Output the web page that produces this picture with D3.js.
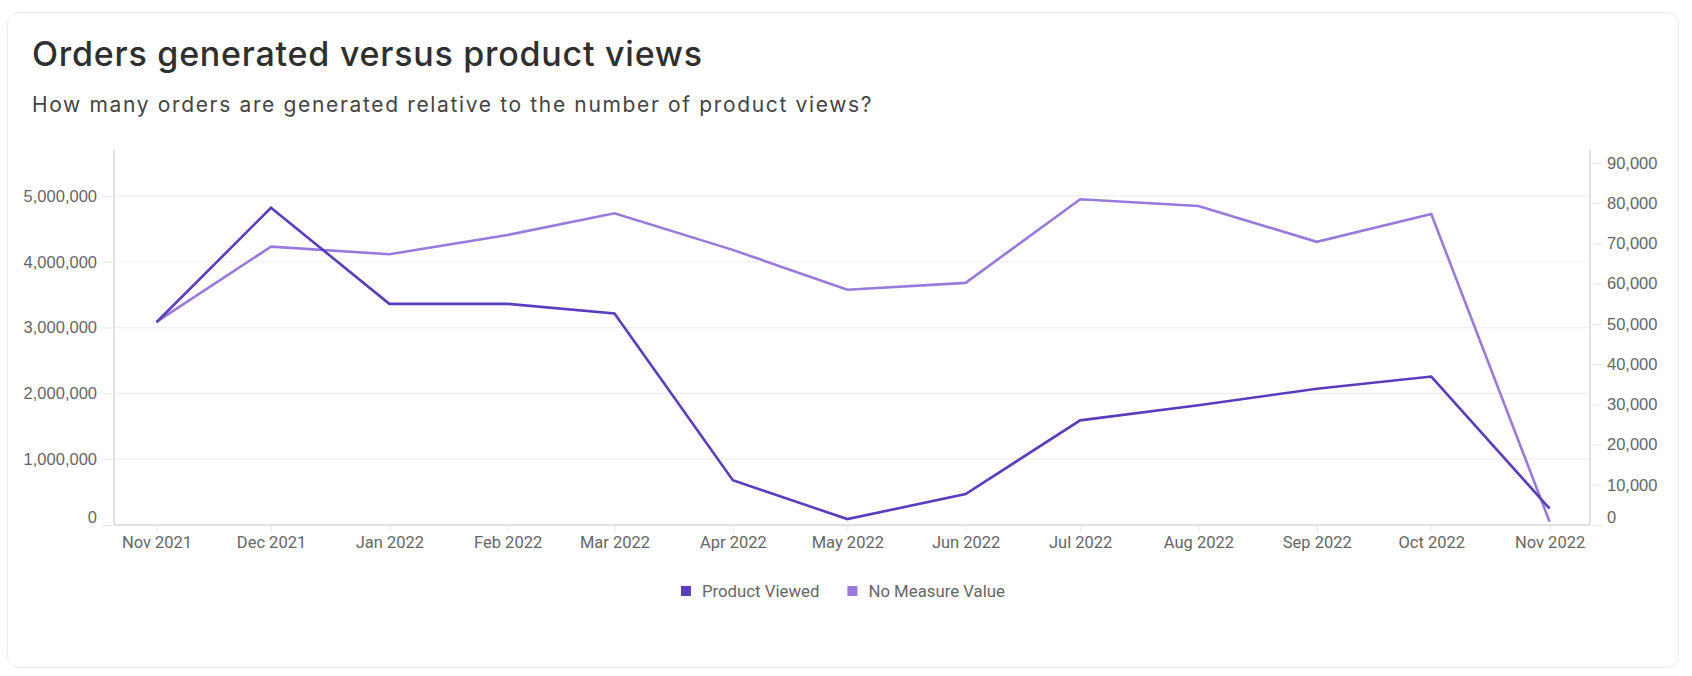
<!DOCTYPE html>
<html>
<head>
<meta charset="utf-8">
<script src="https://cdn.jsdelivr.net/npm/d3@7.9.0/dist/d3.min.js"></script>
<style>
  html, body { margin: 0; padding: 0; background: #fff; }
  svg { display: block; }
</style>
</head>
<body>
<script>
// Chart data
const months = ["2021-11", "2021-12", "2022-01", "2022-02", "2022-03", "2022-04", "2022-05",
                "2022-06", "2022-07", "2022-08", "2022-09", "2022-10", "2022-11"];
const productViewed = [3080000, 4820000, 3360000, 3360000, 3215000, 680000, 90000,
                       470000, 1590000, 1820000, 2070000, 2255000, 250000];
const noMeasureValue = [50500, 69200, 67300, 72100, 77500, 68400, 58500,
                        60200, 81000, 79300, 70400, 77300, 800];
const leftTicks = [0, 1000000, 2000000, 3000000, 4000000, 5000000];
const rightTicks = [0, 10000, 20000, 30000, 40000, 50000, 60000, 70000, 80000, 90000];
const seriesNames = ["Product Viewed", "No Measure Value"];
const seriesColors = ["#5b3cbf", "#9a79dc"];

const W = 1692, H = 676;
const parseMonth = d3.timeParse("%Y-%m");
const dates = months.map(parseMonth);

const svg = d3.select("body").append("svg")
    .attr("width", W)
    .attr("height", H);

// card background
svg.append("rect")
    .attr("x", 7.5).attr("y", 12.5)
    .attr("width", 1671).attr("height", 655)
    .attr("rx", 12)
    .attr("fill", "#fff")
    .attr("stroke", "#ebebed");

// headings
svg.append("text")
    .attr("x", 32).attr("y", 66)
    .attr("font-family", "Inter, sans-serif")
    .attr("font-size", 34)
    .attr("font-weight", 500)
    .attr("letter-spacing", "0.75px")
    .attr("fill", "#2f2f2f")
    .text("Orders generated versus product views");

svg.append("text")
    .attr("x", 32).attr("y", 112)
    .attr("font-family", "Inter, sans-serif")
    .attr("font-size", 21)
    .attr("letter-spacing", "1.65px")
    .attr("fill", "#444")
    .text("How many orders are generated relative to the number of product views?");

// plot frame
const plotLeft = 114, plotRight = 1590, plotTop = 150, plotBottom = 525;

const x = d3.scaleTime()
    .domain([dates[0], dates[dates.length - 1]])
    .range([156.5, 1549.6]);
const yLeft = d3.scaleLinear().domain([0, 5500000]).range([plotBottom, 163]);
const yRight = d3.scaleLinear().domain([0, 90000]).range([plotBottom, 163]);

// gridlines
svg.append("g")
    .selectAll("line")
    .data(leftTicks.filter(d => d > 0))
    .join("line")
    .attr("x1", plotLeft).attr("x2", plotRight)
    .attr("y1", d => yLeft(d)).attr("y2", d => yLeft(d))
    .attr("stroke", "#f0f0f0")
    .attr("stroke-width", 1.2);

// left axis
const fmt = d3.format(",");
const gLeft = svg.append("g")
    .attr("transform", `translate(112,0)`)
    .call(d3.axisLeft(yLeft).tickValues(leftTicks).tickSize(10).tickPadding(5).tickFormat(fmt));
gLeft.select(".domain").remove();

// right axis
const gRight = svg.append("g")
    .attr("transform", `translate(1593,0)`)
    .call(d3.axisRight(yRight).tickValues(rightTicks).tickSize(9).tickPadding(5).tickFormat(fmt));
gRight.select(".domain").remove();

[gLeft, gRight].forEach(g => {
  g.selectAll(".tick line").attr("stroke", "#e6e6e6");
  g.selectAll(".tick text")
      .attr("font-family", "'Liberation Sans', Arial, sans-serif")
      .attr("font-size", 16.5)
      .attr("fill", "#666");
  g.selectAll(".tick").filter(d => d === 0).select("text").attr("dy", "-0.18em");
});

// bottom axis
const gX = svg.append("g")
    .attr("transform", `translate(0,${plotBottom})`)
    .call(d3.axisBottom(x).tickValues(dates).tickSize(7).tickPadding(4).tickFormat(d3.timeFormat("%b %Y")));
gX.select(".domain").remove();
gX.selectAll(".tick line").attr("stroke", "#e6e6e6");
gX.selectAll(".tick text")
    .attr("font-family", "Roboto, sans-serif")
    .attr("font-size", 16.5)
    .attr("fill", "#666");

// axis lines
svg.append("line")
    .attr("x1", plotLeft).attr("x2", plotLeft)
    .attr("y1", plotTop).attr("y2", plotBottom)
    .attr("stroke", "#d8d8d8").attr("stroke-width", 1.5);
svg.append("line")
    .attr("x1", plotRight).attr("x2", plotRight)
    .attr("y1", plotTop).attr("y2", plotBottom)
    .attr("stroke", "#d8d8d8").attr("stroke-width", 1.5);
svg.append("line")
    .attr("x1", plotLeft).attr("x2", plotRight)
    .attr("y1", plotBottom).attr("y2", plotBottom)
    .attr("stroke", "#d8d8d8").attr("stroke-width", 1.5);

// lines
const lineLeft = d3.line().x((d, i) => x(dates[i])).y(d => yLeft(d));
const lineRight = d3.line().x((d, i) => x(dates[i])).y(d => yRight(d));

svg.append("path")
    .datum(noMeasureValue)
    .attr("d", lineRight)
    .attr("fill", "none")
    .attr("stroke", seriesColors[1])
    .attr("stroke-width", 2.6);

svg.append("path")
    .datum(productViewed)
    .attr("d", lineLeft)
    .attr("fill", "none")
    .attr("stroke", seriesColors[0])
    .attr("stroke-width", 2.6);

// legend
const legend = svg.append("g").attr("transform", "translate(0,591)");
const items = legend.selectAll("g")
    .data(seriesNames)
    .join("g");
items.append("rect")
    .attr("width", 10).attr("height", 10)
    .attr("y", -5)
    .attr("fill", (d, i) => seriesColors[i]);
items.append("text")
    .attr("x", 21)
    .attr("dy", "0.35em")
    .attr("font-family", "Roboto, sans-serif")
    .attr("font-size", 16.8)
    .attr("fill", "#666")
    .text(d => d);

// lay legend items out centred under the plot
let offset = 0;
const widths = [];
items.each(function () {
  widths.push(this.getBBox().width);
});
const gap = 28;
const total = d3.sum(widths) + gap * (widths.length - 1);
let start = 843 - total / 2;
items.attr("transform", (d, i) => {
  const tx = start + offset;
  offset += widths[i] + gap;
  return `translate(${tx},0)`;
});
</script>
</body>
</html>
